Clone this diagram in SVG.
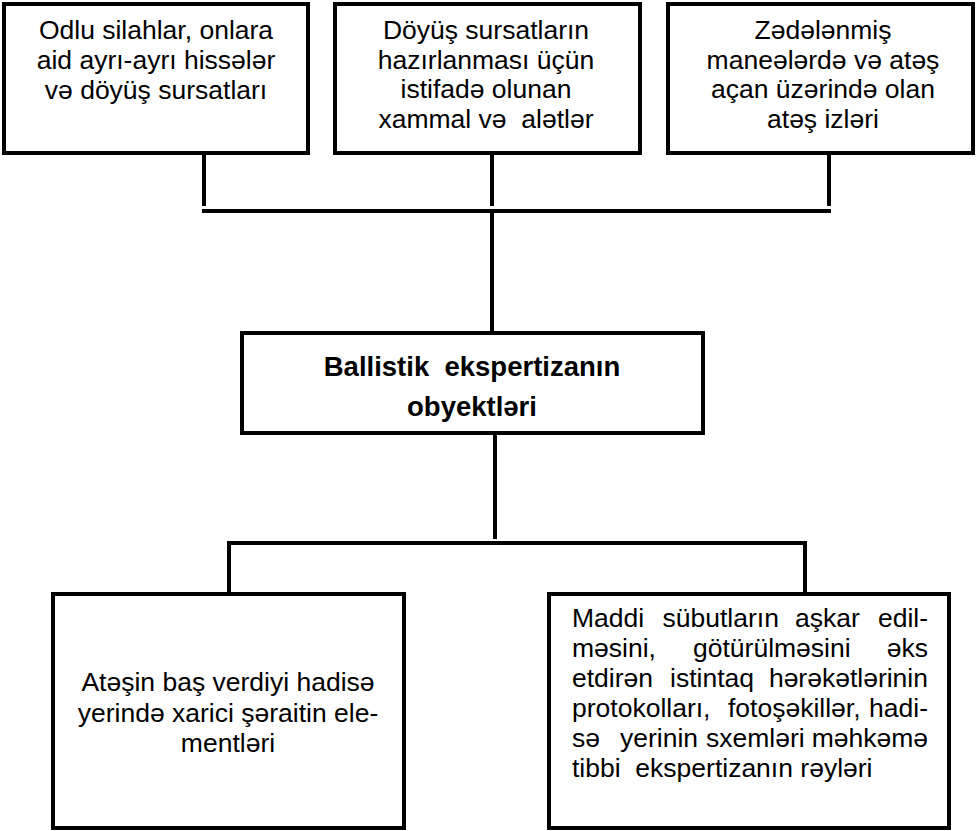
<svg xmlns="http://www.w3.org/2000/svg" width="978" height="831" viewBox="0 0 978 831">
<style>
.box{fill:#fff;stroke:#000;stroke-width:4}
.t{font-family:"Liberation Sans",Arial,sans-serif;font-size:26.5px;fill:#000;text-anchor:middle}
.b{font-weight:bold;font-size:27.5px}
.j{text-anchor:start}
.c{stroke:#000;stroke-width:4;fill:none}
</style>
<rect width="978" height="831" fill="#fff"/>
<g id="connectors">
<line class="c" x1="204" y1="153" x2="204" y2="206"/>
<line class="c" x1="492" y1="153" x2="492" y2="206"/>
<line class="c" x1="829" y1="153" x2="829" y2="206"/>
<line class="c" x1="202" y1="211" x2="831" y2="211"/>
<line class="c" x1="492" y1="211" x2="492" y2="333"/>
<line class="c" x1="495" y1="433" x2="495" y2="539"/>
<polyline class="c" points="229,594 229,543 805,543 805,594"/>
</g>
<g id="n1">
<rect class="box" x="4" y="4" width="304" height="149"/>
<text class="t" x="156" y="39">Odlu silahlar, onlara</text>
<text class="t" x="156" y="69">aid ayrı-ayrı hissələr</text>
<text class="t" x="156" y="99">və döyüş sursatları</text>
</g>
<g id="n2">
<rect class="box" x="335" y="4" width="305" height="149"/>
<text class="t" x="486" y="39">Döyüş sursatların</text>
<text class="t" x="486" y="68.7">hazırlanması üçün</text>
<text class="t" x="486" y="98.3">istifadə olunan</text>
<text class="t" x="486" y="128" xml:space="preserve">xammal və  alətlər</text>
</g>
<g id="n3">
<rect class="box" x="668" y="4" width="305" height="149"/>
<text class="t" x="823" y="39">Zədələnmiş</text>
<text class="t" x="823" y="68.7">maneələrdə və atəş</text>
<text class="t" x="823" y="98.3">açan üzərində olan</text>
<text class="t" x="823" y="128">atəş izləri</text>
</g>
<g id="center">
<rect class="box" x="242" y="333" width="461" height="100"/>
<text class="t b" x="472" y="376" xml:space="preserve">Ballistik  ekspertizanın</text>
<text class="t b" x="472" y="416">obyektləri</text>
</g>
<g id="n4">
<rect class="box" x="53" y="594" width="351" height="234"/>
<text class="t" x="228" y="691">Atəşin baş verdiyi hadisə</text>
<text class="t" x="228" y="721.5">yerində xarici şəraitin ele-</text>
<text class="t" x="228" y="752">mentləri</text>
</g>
<g id="n5">
<rect class="box" x="549" y="594" width="400" height="234"/>
<text class="t j" y="627"><tspan x="572">Maddi</tspan><tspan x="662.5">sübutların</tspan><tspan x="795">aşkar</tspan><tspan x="878">edil-</tspan></text>
<text class="t j" y="657"><tspan x="572">məsini,</tspan><tspan x="693">götürülməsini</tspan><tspan x="886.7">əks</tspan></text>
<text class="t j" y="687"><tspan x="572">etdirən</tspan><tspan x="670">istintaq</tspan><tspan x="768.9">hərəkətlərinin</tspan></text>
<text class="t j" y="717"><tspan x="572">protokolları,</tspan><tspan x="728">fotoşəkillər,</tspan><tspan x="869.1">hadi-</tspan></text>
<text class="t j" y="747"><tspan x="572">sə</tspan><tspan x="620">yerinin</tspan><tspan x="706">sxemləri</tspan><tspan x="811.7">məhkəmə</tspan></text>
<text class="t j" x="572" y="777" xml:space="preserve">tibbi  ekspertizanın rəyləri</text>
</g>
</svg>
